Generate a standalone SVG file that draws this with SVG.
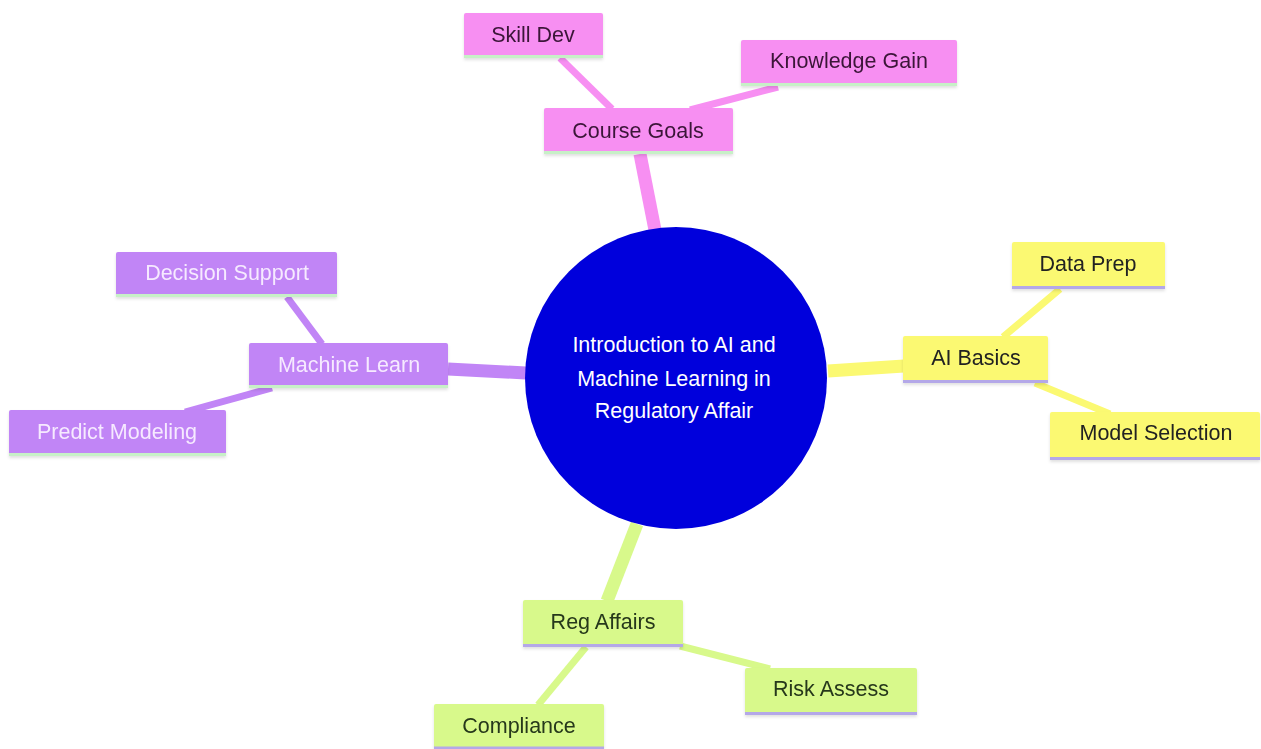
<svg xmlns="http://www.w3.org/2000/svg" width="1261" height="749" viewBox="0 0 1261 749">
<defs>
<filter id="sh" x="-10%" y="-20%" width="120%" height="150%"><feDropShadow dx="0" dy="2" stdDeviation="1.5" flood-color="#000" flood-opacity="0.12"/></filter>
</defs>
<style>
text{font-family:"Liberation Sans",Arial,sans-serif;font-size:21.5px;text-anchor:middle;dominant-baseline:central}
.pink{fill:#f78ff2}.purple{fill:#c185f6}.yellow{fill:#fbf972}.green{fill:#d8f98b}
.tp{fill:#3b1538}.tu{fill:#f6eaff}.ty{fill:#222}.tg{fill:#26381a}
.bg{stroke:#c7f0c7;stroke-width:3}.bl{stroke:#b4a8e8;stroke-width:3}
.c{fill:none;stroke-linecap:butt}
</style>
<rect width="1261" height="749" fill="#fff"/>
<g id="connectors">
<path class="c" d="M655 230 L640 154" stroke="#f78ff2" stroke-width="13"/>
<path class="c" d="M828 371 L904 366" stroke="#fbf972" stroke-width="13"/>
<path class="c" d="M526 373 L448 369" stroke="#c185f6" stroke-width="13"/>
<path class="c" d="M637 524 L607 601" stroke="#d8f98b" stroke-width="13"/>
<path class="c" d="M560 58 L612 109" stroke="#f78ff2" stroke-width="7"/>
<path class="c" d="M778 87 L690 110" stroke="#f78ff2" stroke-width="7"/>
<path class="c" d="M287 297 L322 344" stroke="#c185f6" stroke-width="7"/>
<path class="c" d="M272 388 L185 412" stroke="#c185f6" stroke-width="7"/>
<path class="c" d="M1060 289 L1003 337" stroke="#fbf972" stroke-width="7"/>
<path class="c" d="M1035 383 L1110 414" stroke="#fbf972" stroke-width="7"/>
<path class="c" d="M586 647 L538 705" stroke="#d8f98b" stroke-width="7"/>
<path class="c" d="M680 646 L770 669" stroke="#d8f98b" stroke-width="7"/>
</g>
<g id="center">
<circle cx="676" cy="378" r="151" fill="#0000dc"/>
<text x="674" y="345" fill="#fff" font-size="20.8">Introduction to AI and</text>
<text x="674" y="379" fill="#fff" font-size="20.8">Machine Learning in</text>
<text x="674" y="411" fill="#fff" font-size="20.8">Regulatory Affair</text>
</g>
<g id="course-goals" filter="url(#sh)"><rect class="pink" x="544" y="108" width="189" height="45" rx="2"/><line class="bg" x1="544" y1="152.5" x2="733" y2="152.5"/><text class="tp" x="638" y="131">Course Goals</text></g>
<g id="skill-dev" filter="url(#sh)"><rect class="pink" x="464" y="13" width="139" height="44" rx="2"/><line class="bg" x1="464" y1="56.5" x2="603" y2="56.5"/><text class="tp" x="533" y="35">Skill Dev</text></g>
<g id="knowledge-gain" filter="url(#sh)"><rect class="pink" x="741" y="40" width="216" height="45" rx="2"/><line class="bg" x1="741" y1="84.5" x2="957" y2="84.5"/><text class="tp" x="849" y="61">Knowledge Gain</text></g>
<g id="machine-learn" filter="url(#sh)"><rect class="purple" x="249" y="343" width="199" height="44" rx="2"/><line class="bg" x1="249" y1="386.5" x2="448" y2="386.5"/><text class="tu" x="349" y="365">Machine Learn</text></g>
<g id="decision-support" filter="url(#sh)"><rect class="purple" x="116" y="252" width="221" height="44" rx="2"/><line class="bg" x1="116" y1="295.5" x2="337" y2="295.5"/><text class="tu" x="227" y="273">Decision Support</text></g>
<g id="predict-modeling" filter="url(#sh)"><rect class="purple" x="9" y="410" width="217" height="45" rx="2"/><line class="bg" x1="9" y1="454.5" x2="226" y2="454.5"/><text class="tu" x="117" y="432">Predict Modeling</text></g>
<g id="ai-basics" filter="url(#sh)"><rect class="yellow" x="903" y="336" width="145" height="46" rx="2"/><line class="bl" x1="903" y1="381.5" x2="1048" y2="381.5"/><text class="ty" x="976" y="358">AI Basics</text></g>
<g id="data-prep" filter="url(#sh)"><rect class="yellow" x="1012" y="242" width="153" height="46" rx="2"/><line class="bl" x1="1012" y1="287.5" x2="1165" y2="287.5"/><text class="ty" x="1088" y="264">Data Prep</text></g>
<g id="model-selection" filter="url(#sh)"><rect class="yellow" x="1050" y="412" width="210" height="47" rx="2"/><line class="bl" x1="1050" y1="458.5" x2="1260" y2="458.5"/><text class="ty" x="1156" y="433">Model Selection</text></g>
<g id="reg-affairs" filter="url(#sh)"><rect class="green" x="523" y="600" width="160" height="46" rx="2"/><line class="bl" x1="523" y1="645.5" x2="683" y2="645.5"/><text class="tg" x="603" y="622">Reg Affairs</text></g>
<g id="risk-assess" filter="url(#sh)"><rect class="green" x="745" y="668" width="172" height="46" rx="2"/><line class="bl" x1="745" y1="713.5" x2="917" y2="713.5"/><text class="tg" x="831" y="689">Risk Assess</text></g>
<g id="compliance" filter="url(#sh)"><rect class="green" x="434" y="704" width="170" height="45" rx="2"/><line class="bl" x1="434" y1="748" x2="604" y2="748"/><text class="tg" x="519" y="726">Compliance</text></g>
</svg>
